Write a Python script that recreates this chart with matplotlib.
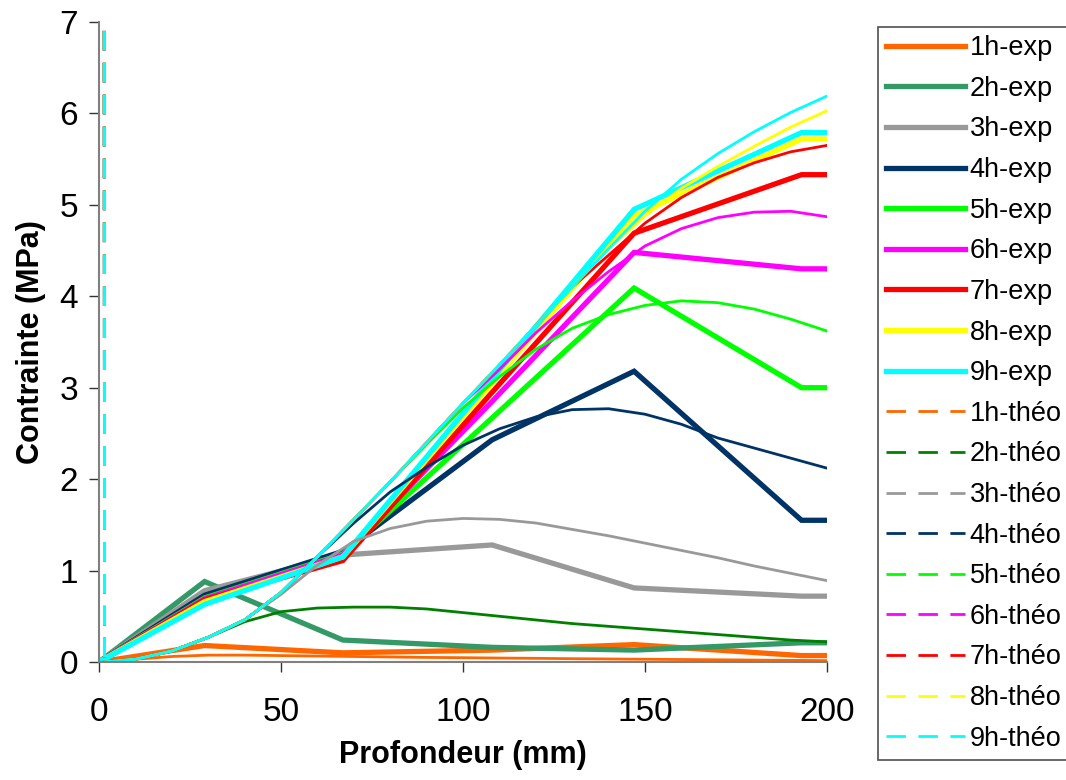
import matplotlib
matplotlib.use('Agg')
import matplotlib.pyplot as plt

# profondeur des mesures (mm)
depth_exp = [0, 29, 67, 108, 147, 193, 200]
exp_1h = [0, 0.18, 0.10, 0.13, 0.19, 0.07, 0.07]
exp_2h = [0, 0.88, 0.24, 0.16, 0.13, 0.21, 0.21]
exp_3h = [0, 0.78, 1.17, 1.28, 0.81, 0.72, 0.72]
exp_4h = [0, 0.73, 1.21, 2.43, 3.18, 1.55, 1.55]
exp_5h = [0, 0.70, 1.18, 2.67, 4.09, 3.00, 3.00]
exp_6h = [0, 0.69, 1.17, 2.85, 4.48, 4.30, 4.30]
exp_7h = [0, 0.68, 1.11, 2.95, 4.69, 5.33, 5.33]
exp_8h = [0, 0.66, 1.15, 3.05, 4.88, 5.72, 5.72]
exp_9h = [0, 0.63, 1.15, 3.10, 4.95, 5.79, 5.79]

# calcul theorique (premier point = valeur hors echelle pres de x=0)
depth_theo = [1, 1.5, 10, 20, 30, 40, 50, 60, 70, 80, 90, 100,
              110, 120, 130, 140, 150, 160, 170, 180, 190, 200]
theo_1h = [50, 0, 0.03, 0.06, 0.075, 0.075, 0.07, 0.065, 0.06, 0.055, 0.05, 0.047,
           0.043, 0.04, 0.036, 0.033, 0.03, 0.027, 0.024, 0.021, 0.018, 0.015]
theo_2h = [50, 0, 0.03, 0.12, 0.27, 0.44, 0.55, 0.59, 0.60, 0.60, 0.58, 0.54,
           0.50, 0.46, 0.42, 0.39, 0.36, 0.33, 0.30, 0.27, 0.24, 0.22]
theo_3h = [50, 0, 0.03, 0.12, 0.27, 0.46, 0.74, 1.06, 1.32, 1.46, 1.54, 1.57,
           1.56, 1.52, 1.45, 1.38, 1.30, 1.22, 1.14, 1.05, 0.97, 0.89]
theo_4h = [50, 0, 0.03, 0.12, 0.27, 0.46, 0.76, 1.15, 1.52, 1.86, 2.13, 2.37,
           2.55, 2.68, 2.76, 2.77, 2.71, 2.60, 2.45, 2.34, 2.23, 2.12]
theo_5h = [50, 0, 0.03, 0.12, 0.27, 0.46, 0.76, 1.15, 1.56, 1.97, 2.38, 2.78,
           3.12, 3.42, 3.65, 3.80, 3.90, 3.95, 3.93, 3.86, 3.75, 3.62]
theo_6h = [50, 0, 0.03, 0.12, 0.27, 0.46, 0.76, 1.15, 1.56, 1.97, 2.40, 2.83,
           3.20, 3.60, 3.95, 4.27, 4.55, 4.74, 4.86, 4.92, 4.93, 4.87]
theo_7h = [50, 0, 0.03, 0.12, 0.27, 0.46, 0.76, 1.15, 1.56, 1.97, 2.40, 2.83,
           3.25, 3.68, 4.10, 4.45, 4.80, 5.08, 5.30, 5.46, 5.58, 5.65]
theo_8h = [50, 0, 0.03, 0.12, 0.27, 0.46, 0.76, 1.15, 1.56, 1.97, 2.40, 2.83,
           3.25, 3.68, 4.10, 4.52, 4.88, 5.18, 5.42, 5.64, 5.85, 6.03]
theo_9h = [50, 0, 0.03, 0.12, 0.27, 0.46, 0.76, 1.15, 1.56, 1.97, 2.40, 2.83,
           3.25, 3.68, 4.10, 4.52, 4.93, 5.28, 5.56, 5.80, 6.01, 6.19]

hours = ['1h', '2h', '3h', '4h', '5h', '6h', '7h', '8h', '9h']
exp_colors = ['#FF6600', '#339966', '#999999', '#003366', '#00FF00',
              '#FF00FF', '#FF0000', '#FFFF00', '#00FFFF']
theo_colors = ['#FF6600', '#008000', '#999999', '#003366', '#00FF00',
               '#FF00FF', '#FF0000', '#FFFF00', '#00FFFF']

matplotlib.rcParams['font.family'] = ['Liberation Sans', 'DejaVu Sans']

fig = plt.figure(figsize=(10.66, 7.8), dpi=100)
ax = fig.add_axes([0.0929, 0.1513, 0.6829, 0.8205])

handles = []
exp_all = [exp_1h, exp_2h, exp_3h, exp_4h, exp_5h, exp_6h, exp_7h, exp_8h, exp_9h]
for h, data, col in zip(hours, exp_all, exp_colors):
    line, = ax.plot(depth_exp, data, color=col, lw=3.8, label=h + '-exp',
                    solid_joinstyle='miter')
    handles.append(line)

theo_all = [theo_1h, theo_2h, theo_3h, theo_4h, theo_5h, theo_6h, theo_7h, theo_8h, theo_9h]
for h, data, col in zip(hours, theo_all, theo_colors):
    # Excel redemarre les tirets a chaque segment : la courbe parait pleine
    spike, = ax.plot(depth_theo[:2], data[:2], color=col, lw=2.0,
                     dashes=(7, 4.5), label=h + '-théo')
    ax.plot(depth_theo[1:], data[1:], color=col, lw=2.0)
    handles.append(spike)

ax.set_xlim(0, 200)
ax.set_ylim(0, 7)
ax.set_xticks([0, 50, 100, 150, 200])
ax.set_yticks(range(8))
for side in ['top', 'right']:
    ax.spines[side].set_visible(False)
for side in ['left', 'bottom']:
    ax.spines[side].set_color('#808080')
    ax.spines[side].set_linewidth(1.5)
ax.tick_params(axis='both', direction='out', length=7, width=1, colors='#333333',
               labelcolor='black', labelsize=24)
ax.tick_params(axis='x', pad=18)
ax.tick_params(axis='y', pad=8)

ax.set_xlabel('Profondeur (mm)', fontsize=22, fontweight='bold', labelpad=9)
ax.set_ylabel('Contrainte (MPa)', fontsize=22, fontweight='bold', labelpad=10)

leg = fig.legend(handles=handles, loc='upper left',
                 bbox_to_anchor=(878 / 1066, 1 - 27 / 780),
                 bbox_transform=fig.transFigure, fontsize=19.5, frameon=True,
                 fancybox=False, borderaxespad=0, borderpad=0.3,
                 labelspacing=0.54, handlelength=2.9, handletextpad=0.18)
leg.get_frame().set_edgecolor('#222222')
leg.get_frame().set_linewidth(1.2)

fig.savefig('out.png', dpi=100)
